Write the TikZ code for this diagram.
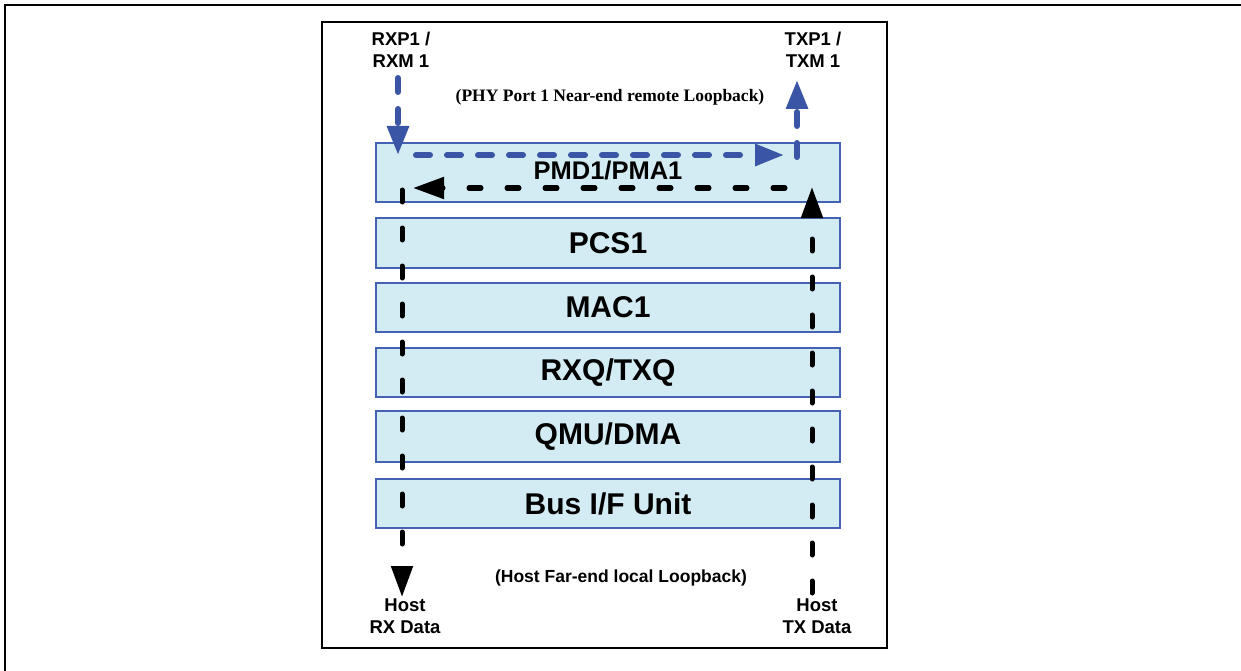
\documentclass[tikz,border=0pt]{standalone}
\usepackage{fontspec}
\setmainfont{Liberation Sans}
\newfontfamily\serifbold{Liberation Serif}
\usetikzlibrary{arrows.meta}
\definecolor{boxfill}{RGB}{211,236,243}
\definecolor{boxline}{RGB}{68,98,178}
\definecolor{flowblue}{RGB}{58,84,166}
\tikzset{
  layer/.style={draw=boxline, line width=1.5pt, fill=boxfill, minimum width=464pt,
    inner sep=0pt, font=\bfseries\fontsize{30}{30}\selectfont},
  portlbl/.style={font=\bfseries\fontsize{18.5}{22}\selectfont, align=center, inner sep=0pt},
  blueflow/.style={draw=flowblue, line width=6pt, line cap=round, dash pattern=on 14pt off 17pt,
    -{Triangle[length=29pt,width=21pt,fill=flowblue]}},
  blackflow/.style={draw=black, line width=5pt, line cap=round, dash pattern=on 12pt off 26pt,
    -{Triangle[length=31pt,width=21pt,fill=black]}},
}
\begin{document}
\begin{tikzpicture}[x=1pt,y=-1pt]
\useasboundingbox (0,0) rectangle (1241,671);
% outer frame
\draw[line width=2pt] (5,680) -- (5,5) -- (1250,5);
% inner frame
\draw[line width=1.3pt] (322,22) rectangle (887,648);
% layers
\node[layer, minimum height=59pt] (pmd) at (608,172.5) {};
\node[font=\bfseries\fontsize{25.5}{25.5}\selectfont] (pmdlbl) at (608,171) {PMD1/PMA1};
\node[layer, minimum height=50pt] (pcs) at (608,243) {PCS1};
\node[layer, minimum height=49pt] (mac) at (608,307.5) {MAC1};
\node[layer, minimum height=49pt] (rxq) at (608,372.5) {RXQ/TXQ};
\node[layer, minimum height=51pt] (qmu) at (608,436.5) {QMU/DMA};
\node[layer, minimum height=49pt] (bus) at (608,503.5) {Bus I/F Unit};
% labels
\node[portlbl] (rxp) at (401,50) {RXP1 /\\RXM 1};
\node[portlbl] (txp) at (813,50) {TXP1 /\\TXM 1};
\node[font=\serifbold\bfseries\fontsize{17.5}{20}\selectfont] (near) at (610,97) {(PHY Port 1 Near-end remote Loopback)};
\node[font=\bfseries\fontsize{17.5}{20}\selectfont] (far) at (621,578) {(Host Far-end local Loopback)};
\node[portlbl] (hrx) at (405,616.5) {Host\\RX Data};
\node[portlbl] (htx) at (817,616.5) {Host\\TX Data};
% connector coordinates
\coordinate (b1s) at (398,78);
\coordinate (b1e) at (398,155);
\coordinate (b2s) at (416,155);
\coordinate (b2e) at (784,155);
\coordinate (b3s) at (797,157);
\coordinate (b3e) at (797,80);
\coordinate (k1s) at (785,188);
\coordinate (k1e) at (413,188);
\coordinate (k2s) at (402,190);
\coordinate (k2e) at (402,597);
\coordinate (k3s) at (812,593);
\coordinate (k3e) at (812,187);
% blue remote loopback
\draw[blueflow] (b1s) -- (b1e);
\draw[blueflow] (b2s) -- (b2e);
\draw[blueflow] (b3s) -- (b3e);
% black local loopback
\draw[blackflow] (k1s) -- (k1e);
\draw[blackflow] (k2s) -- (k2e);
\draw[blackflow] (k3s) -- (k3e);
\end{tikzpicture}
\end{document}
